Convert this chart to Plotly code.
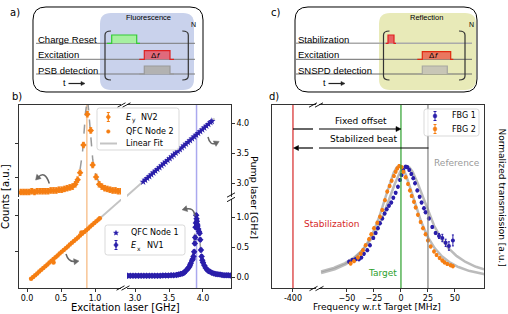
import numpy as np
import plotly.graph_objects as go

W, H = 508, 314
FONT = "DejaVu Sans"
SFONT = "Liberation Sans"
ORANGE = "#f57e12"
BLUE = "#2a1eaa"

# ---------------- data: panel b ----------------
# E_y NV2 (counts, a.u.) vs excitation laser [GHz]
exc_ey = [-0.09, -0.05, -0.01, 0.03, 0.07, 0.11, 0.15, 0.19, 0.23, 0.27, 0.31, 0.35, 0.39,
          0.43, 0.47, 0.51, 0.55, 0.59, 0.63, 0.67, 0.71, 0.745, 0.78, 0.83, 0.887, 0.937,
          0.966, 1.015, 1.06, 1.10, 1.14, 1.18, 1.22, 1.26, 1.30, 1.34, 1.38]
cnt_ey = [0.00, 0.00, 0.00, 0.00, 0.01, 0.00, 0.01, 0.01, 0.01, 0.01, 0.01, 0.02, 0.02,
          0.02, 0.03, 0.03, 0.04, 0.05, 0.06, 0.07, 0.10, 0.16, 0.25, 0.61, 1.01, 0.80,
          0.35, 0.195, 0.10, 0.07, 0.05, 0.04, 0.03, 0.02, 0.02, 0.01, 0.01]
ey_fit = dict(center=0.885, hwhm=0.06, amp=1.2, base=0.0)

# QFC Node 2: pump laser [GHz] vs excitation laser [GHz]
exc_q2 = [0.06, 0.09, 0.12, 0.15, 0.18, 0.21, 0.24, 0.27, 0.30, 0.33, 0.36, 0.39, 0.42, 0.45,
          0.48, 0.51, 0.54, 0.57, 0.60, 0.63, 0.66, 0.69, 0.72, 0.75, 0.78, 0.81, 0.84, 0.87,
          0.90, 0.93, 0.96, 0.99, 1.02, 1.05, 1.07, 0.39, 0.80]
pump_q2 = [-0.03, 0.00, 0.03, 0.06, 0.09, 0.12, 0.15, 0.18, 0.21, 0.24, 0.27, 0.30, 0.33, 0.36,
           0.39, 0.42, 0.45, 0.48, 0.51, 0.54, 0.57, 0.60, 0.63, 0.66, 0.69, 0.72, 0.75, 0.78,
           0.81, 0.84, 0.87, 0.90, 0.93, 0.96, 0.98, 0.24, 0.74]

# QFC Node 1
exc_q1 = [3.12, 3.15, 3.18, 3.21, 3.24, 3.27, 3.30, 3.33, 3.36, 3.39, 3.42, 3.45, 3.48, 3.51,
          3.54, 3.57, 3.60, 3.63, 3.66, 3.69, 3.72, 3.75, 3.78, 3.81, 3.84, 3.87, 3.90, 3.93,
          3.96, 3.99, 4.02, 4.05, 4.08, 4.11, 4.13]
pump_q1 = [3.02, 3.05, 3.08, 3.11, 3.14, 3.17, 3.20, 3.23, 3.26, 3.29, 3.32, 3.35, 3.38, 3.41,
           3.44, 3.47, 3.50, 3.53, 3.56, 3.59, 3.62, 3.65, 3.68, 3.71, 3.74, 3.77, 3.80, 3.83,
           3.86, 3.89, 3.92, 3.95, 3.98, 4.01, 4.03]

lin_fit = dict(slope=1.0, offset=-0.095)

# E_x NV1 (counts, a.u.)
exc_ex = [2.89, 2.93, 2.97, 3.01, 3.05, 3.09, 3.13, 3.17, 3.21, 3.25, 3.29, 3.33, 3.37, 3.41,
          3.45, 3.49, 3.53, 3.57, 3.61, 3.64, 3.67, 3.70, 3.72, 3.74, 3.76, 3.78, 3.80, 3.81,
          3.82, 3.84, 3.85, 3.86, 3.87, 3.88, 3.885, 3.89, 3.895, 3.90, 3.905, 3.91, 3.915,
          3.92, 3.93, 3.94, 3.95, 3.96, 3.97, 3.98, 3.99, 4.00, 4.02, 4.04, 4.06, 4.08, 4.10,
          4.13, 4.16, 4.19, 4.22, 4.25, 4.28, 4.31, 4.34, 4.37, 4.40]
cnt_ex = [0.02, 0.02, 0.02, 0.02, 0.02, 0.02, 0.02, 0.02, 0.02, 0.02, 0.02, 0.02, 0.02, 0.025,
          0.025, 0.025, 0.03, 0.03, 0.035, 0.04, 0.05, 0.06, 0.07, 0.09, 0.12, 0.14, 0.17, 0.20,
          0.23, 0.28, 0.30, 0.34, 0.42, 0.56, 0.66, 0.83, 0.90, 1.03, 0.97, 0.93, 0.88,
          0.85, 0.80, 0.76, 0.73, 0.62, 0.45, 0.34, 0.28, 0.24, 0.19, 0.15, 0.12, 0.10, 0.09,
          0.07, 0.06, 0.05, 0.045, 0.04, 0.035, 0.03, 0.03, 0.03, 0.025]
ex_fit = dict(center=3.91, hwhm=0.047, amp=1.0, base=0.02)

ey_line = 0.88
ex_line = 3.905

# ---------------- data: panel d ----------------
f_fbg2 = [-46.6, -43.5, -39.8, -37.3, -35.2, -32.7, -29.6, -27.5, -25.0, -21.9, -19.4, -17.3,
          -14.8, -12.7, -10.5, -8.6, -6.5, -4.9, -3.4, -1.6, 0.6, 2.2, 4.3, 6.5, 8.3, 9.9, 12.0,
          13.6, 15.7, 18.2, 20.4, 22.8, 25.0, 27.5, 30.6, 33.0, 35.8, 38.3, 40.4, 42.9, 46.0, 48.1]
t_fbg2 = [0.20, 0.22, 0.25, 0.28, 0.31, 0.35, 0.40, 0.44, 0.49, 0.535, 0.585, 0.64, 0.72, 0.79,
          0.836, 0.88, 0.918, 0.953, 0.98, 1.0, 0.99, 0.953, 0.907, 0.852, 0.80, 0.754, 0.707,
          0.66, 0.60, 0.54, 0.49, 0.44, 0.39, 0.34, 0.30, 0.27, 0.245, 0.225, 0.21, 0.197, 0.186, 0.178]
f_fbg1 = [-48.1, -45.0, -42.0, -38.9, -36.7, -34.3, -31.2, -28.7, -25.6, -23.4, -21.3, -19.4,
          -17.3, -15.1, -13.2, -11.1, -9.0, -7.1, -4.9, -2.8, -0.9, 0.6, 2.2, 4.3, 5.9, 7.7, 9.6,
          11.4, 13.0, 15.1, 17.3, 19.1, 21.3, 22.8, 25.9, 29.0, 32.1, 35.2, 38.3, 41.4, 44.4, 48.1]
t_fbg1 = [0.216, 0.23, 0.235, 0.235, 0.25, 0.28, 0.31, 0.35, 0.41, 0.45, 0.49, 0.53, 0.57, 0.61,
          0.645, 0.675, 0.70, 0.74, 0.78, 0.83, 0.885, 0.926, 0.967, 0.994, 0.99, 0.967, 0.934,
          0.90, 0.858, 0.80, 0.748, 0.70, 0.653, 0.62, 0.57, 0.50, 0.45, 0.426, 0.41, 0.37, 0.344, 0.39]
e_fbg1 = [0.012] * 37 + [0.02, 0.03, 0.03, 0.035, 0.045]
fbg2_fit = dict(center=-1.5, hwhm=21.0, amp=0.95, base=0.05)
fbg1_fit = dict(center=5.0, hwhm=25.0, amp=0.95, base=0.05)
stab_f, target_f, ref_f = -400, 0, 25

assert len(exc_ey) == len(cnt_ey)
assert len(exc_q2) == len(pump_q2)
assert len(exc_q1) == len(pump_q1)
assert len(exc_ex) == len(cnt_ex)
assert len(f_fbg2) == len(t_fbg2)
assert len(f_fbg1) == len(t_fbg1) == len(e_fbg1)


def lorentz(x, p):
    return p["base"] + p["amp"] / (1 + ((x - p["center"]) / p["hwhm"]) ** 2)


def PX(x):
    return x / W


def PY(y):
    return 1 - y / H


def P(x, y):
    return f"{PX(x):.5f},{PY(y):.5f}"


fig = go.Figure()
NL = dict(showlegend=False, hoverinfo="skip")

# ---------- panel b traces ----------
xf = np.linspace(-0.11, 1.38, 300)
fig.add_trace(go.Scatter(x=xf, y=lorentz(xf, ey_fit), mode="lines", xaxis="x", yaxis="y",
                         line=dict(color="#9a9a9a", width=1.5, dash="dash"), **NL))
fig.add_trace(go.Scatter(x=exc_ey, y=cnt_ey, mode="markers", xaxis="x", yaxis="y",
                         marker=dict(symbol="diamond", size=5, color=ORANGE),
                         error_y=dict(type="constant", value=0.035, thickness=1, width=1.5, color=ORANGE),
                         name="E_y NV2", **NL))
xl1 = np.array([0.06, 1.40])
fig.add_trace(go.Scatter(x=xl1, y=lin_fit["slope"] * xl1 + lin_fit["offset"], mode="lines",
                         xaxis="x3", yaxis="y3", line=dict(color="#c4c4c4", width=2), name="Linear Fit", **NL))
xl2 = np.array([2.85, 4.17])
fig.add_trace(go.Scatter(x=xl2, y=lin_fit["slope"] * xl2 + lin_fit["offset"], mode="lines",
                         xaxis="x2", yaxis="y2", line=dict(color="#c4c4c4", width=2), **NL))
fig.add_trace(go.Scatter(x=exc_q2, y=pump_q2, mode="markers", xaxis="x3", yaxis="y3",
                         marker=dict(symbol="circle", size=4.5, color=ORANGE), name="QFC Node 2", **NL))
fig.add_trace(go.Scatter(x=exc_q1, y=pump_q1, mode="markers", xaxis="x2", yaxis="y2",
                         marker=dict(symbol="star", size=5.5, color=BLUE), name="QFC Node 1", **NL))
xf2 = np.linspace(2.88, 4.41, 400)
fig.add_trace(go.Scatter(x=xf2, y=lorentz(xf2, ex_fit), mode="lines", xaxis="x4", yaxis="y4",
                         line=dict(color="#9a9a9a", width=1.5, dash="dash"), **NL))
fig.add_trace(go.Scatter(x=exc_ex, y=cnt_ex, mode="markers", xaxis="x4", yaxis="y4",
                         marker=dict(symbol="diamond", size=5, color=BLUE),
                         error_y=dict(type="constant", value=0.03, thickness=1, width=1.5, color=BLUE),
                         name="E_x NV1", **NL))

# ---------- panel d traces ----------
xd = np.linspace(-74, 77, 300)
fig.add_trace(go.Scatter(x=xd, y=lorentz(xd, fbg1_fit), mode="lines", xaxis="x6", yaxis="y6",
                         line=dict(color="rgba(150,150,150,0.65)", width=2.5), **NL))
fig.add_trace(go.Scatter(x=xd, y=lorentz(xd, fbg2_fit), mode="lines", xaxis="x6", yaxis="y6",
                         line=dict(color="rgba(150,150,150,0.65)", width=2.5), **NL))
fig.add_trace(go.Scatter(x=f_fbg1, y=t_fbg1, mode="markers", xaxis="x6", yaxis="y6",
                         marker=dict(symbol="circle", size=4, color=BLUE),
                         error_y=dict(type="data", array=e_fbg1, thickness=1, width=1, color=BLUE),
                         name="FBG 1", **NL))
fig.add_trace(go.Scatter(x=f_fbg2, y=t_fbg2, mode="markers", xaxis="x6", yaxis="y6",
                         marker=dict(symbol="circle", size=4, color=ORANGE),
                         error_y=dict(type="constant", value=0.012, thickness=1, width=1, color=ORANGE),
                         name="FBG 2", **NL))


# ---------- axes ----------
def xax(d0, d1, rng, **kw):
    d = dict(domain=[PX(d0), PX(d1)], range=rng, showgrid=False, zeroline=False, linecolor="black",
             linewidth=0.8, ticks="outside", ticklen=3, tickwidth=0.8, tickcolor="black",
             tickfont=dict(size=8, family=FONT, color="black"), fixedrange=True, showline=True)
    d.update(kw)
    return d


def yax(d0, d1, rng, **kw):
    d = dict(domain=[PY(d1), PY(d0)], range=rng, showgrid=False, zeroline=False, linecolor="black",
             linewidth=0.8, ticks="outside", ticklen=3, tickwidth=0.8, tickcolor="black",
             tickfont=dict(size=8, family=FONT, color="black"), fixedrange=True, showline=True)
    d.update(kw)
    return d


xl_rng = [-0.1176, 1.382]
xr_rng = [2.882, 4.412]
fig.update_layout(
    xaxis=xax(19, 121, xl_rng, anchor="y", side="top", ticks="", showticklabels=False),
    yaxis=yax(105, 197, [-0.065, 1.13], anchor="x", side="left", tickvals=[0.182, 0.636], showticklabels=False),
    xaxis2=xax(127, 231, xr_rng, anchor="y2", side="top", ticks="", showticklabels=False),
    yaxis2=yax(105, 197, [2.767, 4.3], anchor="x2", side="right", tickvals=[3.0, 3.5, 4.0],
               ticktext=["3.0", "3.5", "4.0"]),
    xaxis3=xax(19, 121, xl_rng, anchor="y3", side="bottom", tickvals=[0, 0.5, 1.0],
               ticktext=["0.0", "0.5", "1.0"]),
    yaxis3=yax(199, 288, [-0.183, 1.3], anchor="x3", side="left", tickvals=[0.417, 1.033], showticklabels=False),
    xaxis4=xax(127, 231, xr_rng, anchor="y4", side="bottom", tickvals=[3.0, 3.5, 4.0],
               ticktext=["3.0", "3.5", "4.0"]),
    yaxis4=yax(199, 288, [-0.183, 1.3], anchor="x4", side="right", tickvals=[0, 0.5, 1.0],
               ticktext=["0.0", "0.5", "1.0"]),
    xaxis5=xax(272, 316, [-419.4, -378.7], anchor="y5", side="bottom", mirror=True, tickvals=[-400],
               ticktext=["-400"]),
    yaxis5=yax(105, 288, [0, 1.5], anchor="x5", side="left", ticks="", showticklabels=False),
    xaxis6=xax(319, 484, [-75.9, 76.9], anchor="y6", side="bottom", mirror=True,
               tickvals=[-50, -25, 0, 25, 50], ticktext=["\u221250", "\u221225", "0", "25", "50"]),
    yaxis6=yax(105, 288, [0, 1.5], anchor="x6", side="right", ticks="", showticklabels=False),
)

shapes = []
ann = []


def line_px(x0, y0, x1, y1, color="black", width=1, dash=None):
    ln = dict(color=color, width=width)
    if dash:
        ln["dash"] = dash
    shapes.append(dict(type="line", xref="paper", yref="paper", x0=PX(x0), y0=PY(y0), x1=PX(x1), y1=PY(y1),
                       line=ln))


def path_px(path, color="black", width=1, fill=None):
    d = dict(type="path", xref="paper", yref="paper", path=path, line=dict(color=color, width=width))
    if fill:
        d["fillcolor"] = fill
    if width == 0:
        d["line"] = dict(width=0)
    shapes.append(d)


def text_px(x, y, s, size=8, color="black", family=FONT, xanchor="center", angle=0, style="normal"):
    ann.append(dict(x=PX(x), y=PY(y), xref="paper", yref="paper", text=s, showarrow=False,
                    font=dict(size=size, color=color, family=family, style=style), xanchor=xanchor,
                    yanchor="middle", align="left" if xanchor == "left" else "center", textangle=angle,
                    borderpad=0))


def rrect(x0, y0, x1, y1, r):
    return (f"M {P(x0 + r, y0)} L {P(x1 - r, y0)} Q {P(x1, y0)} {P(x1, y0 + r)} L {P(x1, y1 - r)} "
            f"Q {P(x1, y1)} {P(x1 - r, y1)} L {P(x0 + r, y1)} Q {P(x0, y1)} {P(x0, y1 - r)} "
            f"L {P(x0, y0 + r)} Q {P(x0, y0)} {P(x0 + r, y0)} Z")


def pulse(xa, xb, xc, xd, yl, yt, fill, col):
    path_px(f"M {P(xb, yl)} L {P(xb, yt)} L {P(xc, yt)} L {P(xc, yl)} Z", width=0, fill=fill)
    path_px(f"M {P(xa, yl)} L {P(xb, yl)} L {P(xb, yt)} L {P(xc, yt)} L {P(xc, yl)} L {P(xd, yl)}",
            color=col, width=1.2)


def bracket(x, yt, yb, d):
    path_px(f"M {P(x + d * 6, yt)} Q {P(x, yt)} {P(x, yt + 4)} L {P(x, yb - 4)} Q {P(x, yb)} {P(x + d * 6, yb)}",
            color="#333333", width=1.2)


def head(tip, d, color, length=5.0, half=2.5):
    d = np.array(d, dtype=float)
    d = d / np.linalg.norm(d)
    n = np.array([-d[1], d[0]])
    tip = np.array(tip, dtype=float)
    base = tip - d * length
    b1 = base + n * half
    b2 = base - n * half
    path_px(f"M {P(*tip)} L {P(*b1)} L {P(*b2)} Z", color=color, width=0.5, fill=color)
    return base


def straight_arrow(x0, y0, x1, y1, color="black", width=1.2, length=5.0, half=2.5):
    base = head((x1, y1), (x1 - x0, y1 - y0), color, length, half)
    line_px(x0, y0, base[0], base[1], color=color, width=width)


def curved_arrow(p0, c, p1, color="#666666"):
    path_px(f"M {P(*p0)} Q {P(*c)} {P(*p1)}", color=color, width=1.5)
    d = np.array(p1) - np.array(c)
    d = d / np.linalg.norm(d)
    head(np.array(p1) + d * 3.5, d, color, length=5, half=3)


def brk(cx, cy, dx=4, dy=2.2):
    line_px(cx - dx, cy + dy, cx + dx, cy - dy, width=0.9)


def diamond(cx, cy, r, color):
    path_px(f"M {P(cx, cy - r)} L {P(cx + r * 0.8, cy)} L {P(cx, cy + r)} L {P(cx - r * 0.8, cy)} Z",
            color=color, width=0.5, fill=color)


def dot(cx, cy, r, color):
    shapes.append(dict(type="circle", xref="paper", yref="paper", x0=PX(cx - r), x1=PX(cx + r),
                       y0=PY(cy + r), y1=PY(cy - r), fillcolor=color, line=dict(color=color, width=0.5)))


def star(cx, cy, r, color):
    pts = []
    for k in range(10):
        rr = r if k % 2 == 0 else r * 0.45
        a = -np.pi / 2 + k * np.pi / 5
        pts.append(P(cx + rr * np.cos(a), cy + rr * np.sin(a)))
    path_px("M " + " L ".join(pts) + " Z", color=color, width=0.5, fill=color)


def errbar(cx, y0, y1, color):
    line_px(cx, y0, cx, y1, color=color, width=1)
    line_px(cx - 1.5, y0, cx + 1.5, y0, color=color, width=1)
    line_px(cx - 1.5, y1, cx + 1.5, y1, color=color, width=1)


def delta_f(cx, cy):
    text_px(cx + 0.5, cy, "Δ", size=8, family=SFONT, xanchor="right")
    text_px(cx - 1.5, cy, "f", size=8, family=SFONT, xanchor="left", style="italic")


def sub_label(x, y, main, sub, rest):
    text_px(x, y, main, size=8, xanchor="left", style="italic")
    text_px(x + 6, y + 2.5, sub, size=6, xanchor="left")
    text_px(x + 15.5, y, rest, size=8, xanchor="left")


# ---------- panel a schematic ----------
path_px(rrect(100, 13, 194, 90, 11), width=0, fill="#c9d2ec")
path_px(rrect(33, 7, 203, 92, 13), color="black", width=1)
for yy in (43.3, 59.3, 74.0):
    line_px(36, yy, 195, yy, color="#7a7a7a", width=1)
bracket(105, 31, 80, 1)
bracket(188.3, 31, 80, -1)
pulse(107, 111.7, 136.7, 140, 43.3, 35, "#a6f0a0", "#33cc33")
pulse(139.3, 144.3, 170, 174, 59.3, 50.7, "#e06a7c", "#dd2222")
pulse(139.3, 144.3, 170, 174, 74, 66, "#b2b2b2", "#9a9a9a")
text_px(37, 39.5, "Charge Reset", size=9.5, family=SFONT, xanchor="left")
text_px(37, 55, "Excitation", size=9.5, family=SFONT, xanchor="left")
text_px(37, 70.5, "PSB detection", size=9.5, family=SFONT, xanchor="left")
delta_f(157, 55.5)
text_px(148, 18, "Fluorescence", size=7.5, family=SFONT)
text_px(193, 25, "N", size=7, family=SFONT)
text_px(64.5, 83, "t", size=9, family=SFONT)
straight_arrow(68.5, 83.5, 85, 83.5, color="#222222", width=1.2, length=4, half=2)
text_px(15, 13, "a)", size=10)

# ---------- panel c schematic ----------
path_px(rrect(379, 13, 476, 90, 11), width=0, fill="#e8eab8")
path_px(rrect(295, 7, 477, 92, 13), color="black", width=1)
line_px(296, 43.3, 472, 43.3, color="#aaaaaa", width=1.6)
line_px(296, 59.3, 472, 59.3, color="#6a6a6a", width=1)
line_px(296, 74.0, 472, 74.0, color="#6a6a6a", width=1)
bracket(383.5, 31, 80, 1)
bracket(465, 31, 80, -1)
pulse(385.7, 388, 394, 396, 43.3, 35, "#e86262", "#e02020")
pulse(417.3, 422.3, 450.7, 453.3, 59.3, 51.7, "#ea775f", "#e02a10")
pulse(417.3, 422.3, 447.3, 452.3, 74, 66, "#c8c6b6", "#a8a8a0")
text_px(297, 39.5, "Stabilization", size=9.5, family=SFONT, xanchor="left")
text_px(297, 55, "Excitation", size=9.5, family=SFONT, xanchor="left")
text_px(297, 70.5, "SNSPD detection", size=9.5, family=SFONT, xanchor="left")
delta_f(435, 56)
text_px(426, 17.5, "Reflection", size=7.5, family=SFONT)
text_px(471, 25, "N", size=7, family=SFONT)
text_px(324.5, 83, "t", size=9, family=SFONT)
straight_arrow(328.5, 83.5, 345, 83.5, color="#222222", width=1.2, length=4, half=2)
text_px(275, 13, "c)", size=10)

# ---------- panel b decorations ----------
shapes.append(dict(type="line", xref="x3", yref="paper", x0=ey_line, x1=ey_line, y0=PY(288), y1=PY(105),
                   line=dict(color="#f8c595", width=1.5), layer="below"))
shapes.append(dict(type="line", xref="x4", yref="paper", x0=ex_line, x1=ex_line, y0=PY(288), y1=PY(105),
                   line=dict(color="#aaa8ee", width=1.5), layer="below"))
brk(121.5, 105)
brk(126.5, 105)
brk(120.5, 288)
brk(125.5, 288)
brk(231, 195)
brk(231, 199.5)
curved_arrow((49.3, 183.5), (45, 170), (38, 177.5))
curved_arrow((208, 137), (210, 146), (216, 143))
curved_arrow((66, 254), (68.5, 262.5), (75.5, 261.5))
curved_arrow((195, 216), (194, 207), (185.5, 209))
text_px(17, 96.5, "b)", size=10)
text_px(125, 307.5, "Excitation laser [GHz]", size=10)
text_px(5, 197, "Counts [a.u.]", size=10, angle=-90)
text_px(255, 197, "Pump laser [GHz]", size=9.5, angle=90)

# legend box (panel b, upper)
path_px(rrect(97, 108, 179, 150, 2.5), color="#cfcfcf", width=0.8, fill="rgba(255,255,255,0.85)")
errbar(108.3, 112.5, 121.5, ORANGE)
diamond(108.3, 117, 2.8, ORANGE)
sub_label(124.5, 117, "E", "y", "NV2")
dot(108.3, 131.5, 1.8, ORANGE)
text_px(124.5, 131.5, "QFC Node 2", size=8, xanchor="left")
line_px(100, 143.5, 117, 143.5, color="#c4c4c4", width=2)
text_px(124.5, 143.5, "Linear Fit", size=8, xanchor="left")

# legend box (panel b, lower)
path_px(rrect(105, 225, 185, 255, 2.5), color="#cfcfcf", width=0.8, fill="rgba(255,255,255,0.85)")
star(116, 233, 2.6, BLUE)
text_px(130, 233, "QFC Node 1", size=8, xanchor="left")
errbar(116, 240.5, 249.5, BLUE)
diamond(116, 245, 2.8, BLUE)
sub_label(130, 245.5, "E", "x", "NV1")

# ---------- panel d decorations ----------
shapes.append(dict(type="line", xref="x5", yref="paper", x0=stab_f, x1=stab_f, y0=PY(288), y1=PY(105),
                   line=dict(color="#d62728", width=1.2)))
shapes.append(dict(type="line", xref="x6", yref="paper", x0=target_f, x1=target_f, y0=PY(288), y1=PY(105),
                   line=dict(color="#2ca02c", width=1.2)))
shapes.append(dict(type="line", xref="x6", yref="paper", x0=ref_f, x1=ref_f, y0=PY(288), y1=PY(105),
                   line=dict(color="#808080", width=1.2)))
brk(313, 105)
brk(319, 105)
brk(313.5, 288.5)
brk(319.5, 288.5)
line_px(293, 129, 313, 129, width=1.2)
straight_arrow(319, 129, 401, 129)
line_px(319, 148, 428.5, 148, width=1.2)
straight_arrow(313, 148, 293.5, 148)
text_px(361, 121, "Fixed offset", size=9)
text_px(364, 139, "Stabilized beat", size=9)
text_px(457, 163, "Reference", size=9, color="#9a9a9a")
text_px(331, 224, "Stabilization", size=9, color="#d62728")
text_px(382, 273, "Target", size=9, color="#2ca02c")
text_px(274, 96.5, "d)", size=10)
text_px(377, 307, "Frequency w.r.t Target [MHz]", size=9)
text_px(501.5, 197, "Normalized transmission [a.u.]", size=9, angle=90)

# legend box (panel d)
path_px(rrect(424, 109, 479, 136, 2.5), color="#cfcfcf", width=0.8, fill="rgba(255,255,255,0.85)")
errbar(435, 111.5, 120.5, BLUE)
dot(435, 116, 1.9, BLUE)
text_px(451, 116, "FBG 1", size=8, xanchor="left")
errbar(435, 124.5, 133.5, ORANGE)
dot(435, 129, 1.9, ORANGE)
text_px(451, 129, "FBG 2", size=8, xanchor="left")

fig.update_layout(shapes=shapes, annotations=ann, width=W, height=H, autosize=False,
                  margin=dict(l=0, r=0, t=0, b=0), template="none", showlegend=False,
                  paper_bgcolor="white", plot_bgcolor="rgba(0,0,0,0)",
                  font=dict(family=FONT, size=8, color="black"))

fig.write_html("out.html", config={"displayModeBar": False, "staticPlot": True},
               post_script="document.body.style.margin='0px';")
